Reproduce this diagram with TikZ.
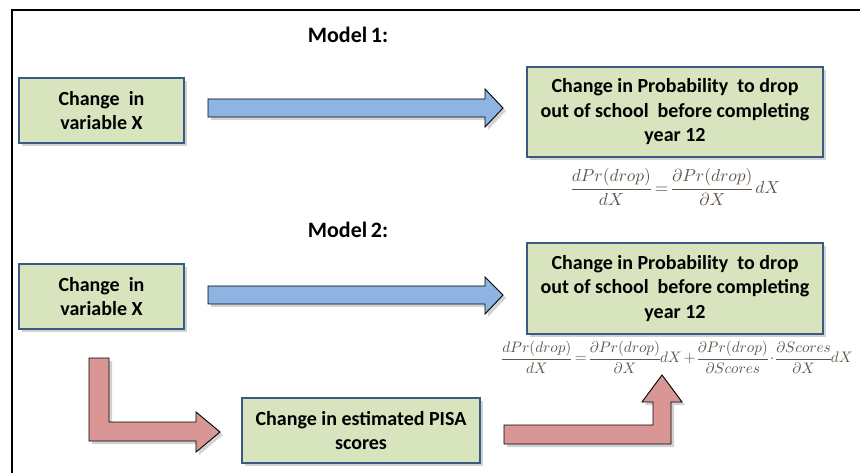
\documentclass[tikz,border=0pt]{standalone}
\usepackage{fontspec}
\setmainfont{Carlito}
\usetikzlibrary{shadows}
\definecolor{boxgreen}{HTML}{D7E4BD}
\definecolor{boxborder}{HTML}{3A5A86}
\definecolor{arrblue}{HTML}{8EB4E3}
\definecolor{arrred}{HTML}{D99694}
\definecolor{mathcol}{RGB}{95,85,75}
\newcommand{\tightmath}{\thickmuskip=4mu\medmuskip=2.5mu\nulldelimiterspace=0pt}
\begin{document}
\begin{tikzpicture}[x=1pt,y=-1pt,
  greenbox/.style={draw=boxborder, line width=1.1pt, fill=boxgreen,
    drop shadow={shadow xshift=3pt, shadow yshift=-3pt, opacity=0.35},
    font=\bfseries\fontsize{20}{24.5}\selectfont, align=center, inner sep=0pt},
  blockarrow/.style={draw=black, line width=0.9pt, line join=miter,
    drop shadow={shadow xshift=3pt, shadow yshift=-3pt, opacity=0.35}},
  modellabel/.style={font=\bfseries\fontsize{22}{26}\selectfont, inner sep=0pt},
  formula/.style={text=mathcol, font=\fontsize{10}{12}\selectfont\tightmath, inner sep=0pt, transform shape}
]
\useasboundingbox (0,0) rectangle (860,473);
\fill[white] (0,0) rectangle (860,473);
% frame
\draw[line width=1.3pt] (12,480) -- (12,10) -- (870,10);

% labels
\node[modellabel] (m1) at (348,35) {Model\,1:};
\node[modellabel] (m2) at (348,230) {Model\,2:};

% boxes
\node[greenbox, minimum width=165pt, minimum height=65pt] (x1) at (101.5,110.5) {Change~ in\\variable X};
\node[greenbox, minimum width=296pt, minimum height=90pt] (p1) at (675,112) {Change in Probability~ to drop\\out of school~ before completing\\year 12};
\node[greenbox, minimum width=165pt, minimum height=65pt] (x2) at (101.5,296.5) {Change~ in\\variable X};
\node[greenbox, minimum width=296pt, minimum height=91pt] (p2) at (675,288.5) {Change in Probability~ to drop\\out of school~ before completing\\year 12};
\node[greenbox, minimum width=238pt, minimum height=65pt] (s2) at (361,430.5) {Change in estimated PISA\\scores};

% formulas
\node[formula, scale=1.74] (f1) at (676,187) {$\displaystyle \frac{dPr(drop)}{dX}=\frac{\partial Pr(drop)}{\partial X}\,dX$};
\node[formula, scale=1.52, anchor=west] (f2) at (502,357) {$\displaystyle \frac{dPr(drop)}{dX}=\frac{\partial Pr(drop)}{\partial X}dX+\frac{\partial Pr(drop)}{\partial Scores}\cdot\frac{\partial Scores}{\partial X}dX$};

% blue arrows
\draw[blockarrow, fill=arrblue] (208,99) -- (485,99) -- (485,89) -- (503,108) -- (485,127) -- (485,117) -- (208,117) -- cycle;
\draw[blockarrow, fill=arrblue] (208,286) -- (485,286) -- (485,277) -- (503,295) -- (485,314) -- (485,304) -- (208,304) -- cycle;

% red arrows
\draw[blockarrow, fill=arrred] (89,358) -- (109,358) -- (109,422) -- (196,422) -- (196,412) -- (220,432) -- (196,452) -- (196,441) -- (89,441) -- cycle;
\draw[blockarrow, fill=arrred] (504,425) -- (653,425) -- (653,402) -- (642,402) -- (662,375) -- (682,402) -- (671,402) -- (671,444) -- (504,444) -- cycle;
\end{tikzpicture}
\end{document}
